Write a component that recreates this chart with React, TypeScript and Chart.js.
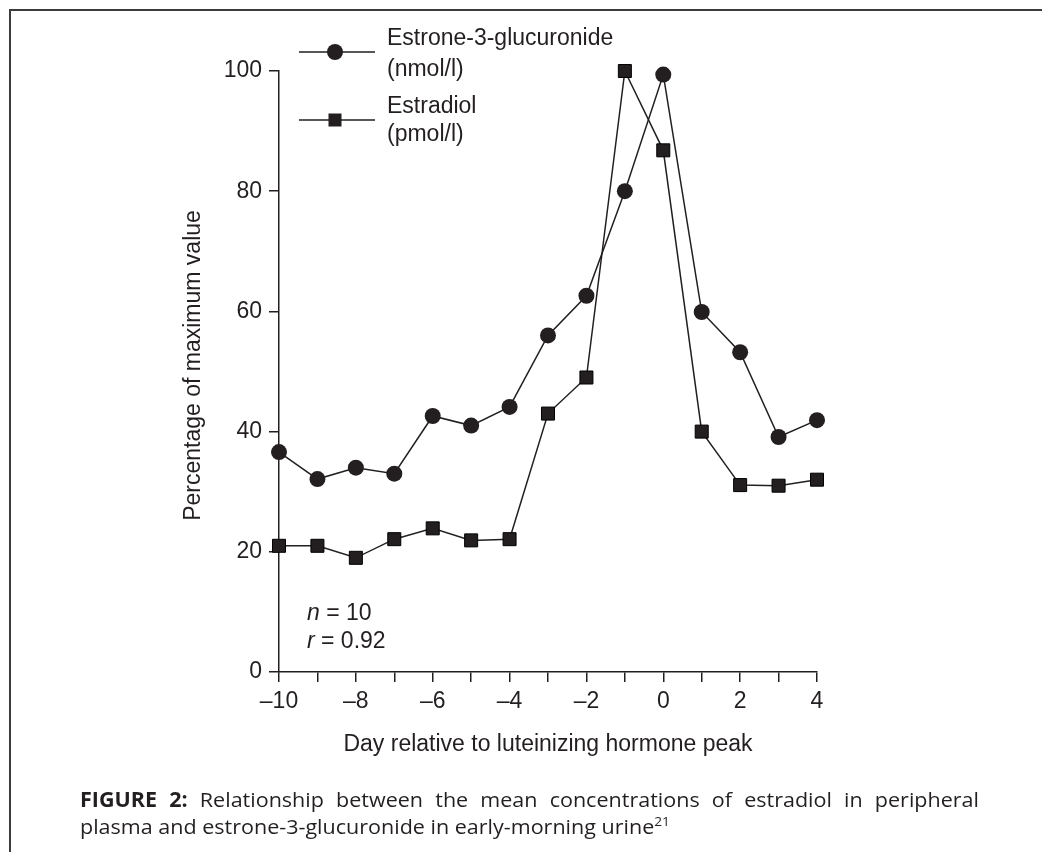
import React, { useEffect, useRef } from "react";
import { Chart, registerables } from "chart.js";

Chart.register(...registerables);

const days = [-10, -9, -8, -7, -6, -5, -4, -3, -2, -1, 0, 1, 2, 3, 4];
const estroneGlucuronide = [36.6, 32.1, 34.0, 33.0, 42.6, 41.0, 44.1, 56.0, 62.6, 80.0, 99.4, 59.9, 53.2, 39.1, 41.9];
const estradiol = [21.0, 21.0, 19.0, 22.1, 23.9, 21.9, 22.1, 43.0, 49.0, 100.0, 86.8, 40.0, 31.1, 31.0, 32.0];
const yTicks = [0, 20, 40, 60, 80, 100];
const xLabelDays = [-10, -8, -6, -4, -2, 0, 2, 4];

const INK = "#231f20";
const FONT = "Liberation Sans, Arial, Helvetica, sans-serif";

const fmt = (v: number) => (v < 0 ? "\u2013" + Math.abs(v) : String(v));

const textPlugin = {
  id: "texts",
  afterDraw(chart: any) {
    const ctx = chart.ctx as CanvasRenderingContext2D;
    const area = chart.chartArea;
    ctx.save();
    ctx.fillStyle = INK;
    ctx.strokeStyle = INK;
    ctx.font = `23px ${FONT}`;
    // y title
    ctx.save();
    ctx.translate(194, (area.top + area.bottom) / 2 - 6);
    ctx.rotate(-Math.PI / 2);
    ctx.textAlign = "center";
    ctx.textBaseline = "middle";
    ctx.fillText("Percentage of maximum value", 0, 0);
    ctx.restore();
    // x title
    ctx.textAlign = "center";
    ctx.textBaseline = "middle";
    ctx.fillText("Day relative to luteinizing hormone peak", (area.left + area.right) / 2, 745);
    // n and r
    ctx.textAlign = "left";
    ctx.textBaseline = "alphabetic";
    const drawStat = (sym: string, rest: string, x: number, y: number) => {
      ctx.font = `italic 23px ${FONT}`;
      ctx.fillText(sym, x, y);
      const w = ctx.measureText(sym).width;
      ctx.font = `23px ${FONT}`;
      ctx.fillText(rest, x + w, y);
    };
    drawStat("n", " = 10", 307, 620);
    drawStat("r", " = 0.92", 307, 648);
    // legend
    ctx.lineWidth = 1.5;
    ctx.beginPath();
    ctx.moveTo(299, 52);
    ctx.lineTo(375, 52);
    ctx.moveTo(299, 120);
    ctx.lineTo(375, 120);
    ctx.stroke();
    ctx.beginPath();
    ctx.arc(335, 52, 8, 0, Math.PI * 2);
    ctx.fill();
    ctx.fillRect(335 - 6.5, 120 - 6.5, 13, 13);
    ctx.font = `23px ${FONT}`;
    ctx.fillText("Estrone-3-glucuronide", 387, 45);
    ctx.fillText("(nmol/l)", 387, 76);
    ctx.fillText("Estradiol", 387, 113);
    ctx.fillText("(pmol/l)", 387, 141);
    ctx.restore();
  },
};

export default function App() {
  const ref = useRef<HTMLCanvasElement | null>(null);
  useEffect(() => {
    if (!ref.current) return;
    const chart = new Chart(ref.current, {
      type: "line",
      data: {
        datasets: [
          {
            label: "Estrone-3-glucuronide (nmol/l)",
            data: days.map((d, i) => ({ x: d, y: estroneGlucuronide[i] })),
            borderColor: INK,
            backgroundColor: INK,
            borderWidth: 1.5,
            pointStyle: "circle",
            pointRadius: 8,
            pointBorderWidth: 0,
            pointBackgroundColor: INK,
            tension: 0,
            clip: false as any,
          },
          {
            label: "Estradiol (pmol/l)",
            data: days.map((d, i) => ({ x: d, y: estradiol[i] })),
            borderColor: INK,
            backgroundColor: INK,
            borderWidth: 1.5,
            pointStyle: "rect",
            pointRadius: 9.2,
            pointBorderWidth: 1,
            pointBorderColor: "#000",
            pointBackgroundColor: INK,
            tension: 0,
            clip: false as any,
          },
        ],
      },
      options: {
        animation: false,
        responsive: false,
        maintainAspectRatio: false,
        layout: { padding: { left: 0, right: 225, top: 71, bottom: 0 } },
        plugins: { legend: { display: false }, tooltip: { enabled: false } },
        scales: {
          x: {
            type: "linear",
            min: -10,
            max: 4,
            afterFit: (s: any) => {
              s.height = 180;
            },
            afterBuildTicks: (s: any) => {
              s.ticks = days.map((d) => ({ value: d }));
            },
            ticks: {
              autoSkip: false,
              maxRotation: 0,
              padding: 6,
              color: INK,
              font: { family: FONT, size: 23 },
              callback: (v: any) => (xLabelDays.includes(Number(v)) ? fmt(Number(v)) : ""),
            },
            grid: { drawOnChartArea: false, drawTicks: true, tickLength: 10, color: INK, lineWidth: 1.5 },
            border: { display: true, color: INK, width: 1.5 },
          },
          y: {
            type: "linear",
            min: 0,
            max: 100,
            afterFit: (s: any) => {
              s.width = 279;
            },
            afterBuildTicks: (s: any) => {
              s.ticks = yTicks.map((v) => ({ value: v }));
            },
            ticks: {
              padding: 7,
              color: INK,
              font: { family: FONT, size: 23 },
              callback: (v: any) => fmt(Number(v)),
            },
            grid: { drawOnChartArea: false, drawTicks: true, tickLength: 10, color: INK, lineWidth: 1.5 },
            border: { display: true, color: INK, width: 1.5 },
          },
        },
      },
      plugins: [textPlugin],
    });
    return () => chart.destroy();
  }, []);

  const SCALE = 1.05;
  const captionStyle: React.CSSProperties = {
    fontFamily: "'Open Sans', 'Noto Sans', sans-serif",
    fontSize: 20.5,
    lineHeight: "27px",
    color: INK,
    whiteSpace: "nowrap",
  };

  return (
    <div style={{ position: "fixed", left: 0, top: 0, width: 1042, height: 852, overflow: "hidden", background: "#fff" }}>
      <div
        style={{
          position: "absolute",
          left: 9,
          top: 9,
          width: 1200,
          height: 1000,
          borderTop: "2px solid #3c3c3c",
          borderLeft: "2px solid #3c3c3c",
        }}
      />
      <canvas ref={ref} width={1042} height={852} style={{ position: "absolute", left: 0, top: 0, width: 1042, height: 852 }} />
      <div
        style={{
          position: "absolute",
          left: 80,
          top: 786,
          width: 899 / SCALE,
          transform: `scaleX(${SCALE})`,
          transformOrigin: "0 0",
        }}
      >
        <div style={{ ...captionStyle, whiteSpace: "normal", textAlign: "justify", textAlignLast: "justify" as any }}>
          <b>FIGURE 2:</b> Relationship between the mean concentrations of estradiol in peripheral
        </div>
        <div style={captionStyle}>
          plasma and estrone-3-glucuronide in early-morning urine
          <sup style={{ fontSize: 13, lineHeight: 0 }}>21</sup>
        </div>
      </div>
    </div>
  );
}
